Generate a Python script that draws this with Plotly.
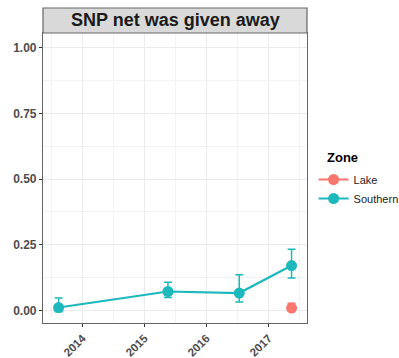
import plotly.graph_objects as go

south_dates = ["2013-08-13", "2015-05-19", "2016-07-12", "2017-05-16"]
south_vals = [0.011, 0.072, 0.066, 0.171]
south_hi = [0.047, 0.107, 0.136, 0.233]
south_lo = [-0.005, 0.0495, 0.032, 0.123]

lake_dates = ["2017-05-16"]
lake_vals = [0.009]
lake_hi = [0.027]
lake_lo = [0.0]

y_ticks = [0, 0.25, 0.5, 0.75, 1.0]
y_ticklabels = ["0.00", "0.25", "0.50", "0.75", "1.00"]
x_ticks = ["2014-01-01", "2015-01-01", "2016-01-01", "2017-01-01"]
x_ticklabels = ["2014", "2015", "2016", "2017"]

LAKE = "#F8766D"
SOUTH = "#1DB8BC"

fig = go.Figure()

fig.add_trace(go.Scatter(
    x=lake_dates, y=lake_vals, name="Lake", mode="lines+markers",
    line=dict(color=LAKE, width=2.2),
    marker=dict(color=LAKE, size=11),
    error_y=dict(type="data", symmetric=False,
                 array=[h - v for h, v in zip(lake_hi, lake_vals)],
                 arrayminus=[v - l for l, v in zip(lake_lo, lake_vals)],
                 color=LAKE, thickness=1.5, width=4),
))
fig.add_trace(go.Scatter(
    x=south_dates, y=south_vals, name="Southern", mode="lines+markers",
    line=dict(color=SOUTH, width=2.2),
    marker=dict(color=SOUTH, size=11),
    error_y=dict(type="data", symmetric=False,
                 array=[h - v for h, v in zip(south_hi, south_vals)],
                 arrayminus=[v - l for l, v in zip(south_lo, south_vals)],
                 color=SOUTH, thickness=1.5, width=4),
))

grid = "#EBEBEB"
PH = 290.0
fig.update_layout(
    width=399, height=358,
    margin=dict(l=43, r=92, t=33, b=35, autoexpand=False),
    paper_bgcolor="white", plot_bgcolor="white",
    font=dict(family="Liberation Sans, Arial, sans-serif", color="#4D4D4D"),
    showlegend=True,
    legend=dict(
        x=1.025, y=(323 - 165) / PH, xanchor="left", yanchor="top",
        font=dict(size=11, color="#222"),
        itemwidth=30,
    ),
    xaxis=dict(
        type="date", range=["2013-05-13", "2017-08-15"],
        tickvals=x_ticks, ticktext=["<b>%s</b>" % t for t in x_ticklabels],
        tickangle=-45, tickfont=dict(size=11.5, color="#4D4D4D"),
        ticks="outside", ticklen=3, tickcolor="#333",
        showgrid=True, gridcolor=grid, gridwidth=1.1,
        minor=dict(tickvals=["2013-07-02", "2014-07-02", "2015-07-02", "2016-07-02", "2017-07-02"],
                   showgrid=True, gridcolor="#F3F3F3", gridwidth=0.6),
        showline=True, linecolor="#666", linewidth=1.2, mirror=True,
        zeroline=False, automargin=False,
    ),
    yaxis=dict(
        range=[-0.048, 1.057],
        tickvals=y_ticks, ticktext=["<b>%s</b>" % t for t in y_ticklabels],
        tickfont=dict(size=12, color="#4D4D4D"),
        ticks="outside", ticklen=3, tickcolor="#333",
        showgrid=True, gridcolor=grid, gridwidth=1.1,
        minor=dict(tickvals=[0.125, 0.375, 0.625, 0.875],
                   showgrid=True, gridcolor="#F3F3F3", gridwidth=0.6),
        showline=True, linecolor="#666", linewidth=1.2, mirror=True,
        zeroline=False, automargin=False,
    ),
    shapes=[dict(type="rect", xref="paper", yref="paper", x0=0, x1=1, y0=1.0, y1=1.0 + 25 / PH,
                 fillcolor="#D9D9D9", line=dict(color="#666", width=1.2))],
    annotations=[
        dict(text="<b>SNP net was given away</b>", xref="paper", yref="paper",
             x=0.5, y=1.0 + 12.5 / PH, xanchor="center", yanchor="middle",
             showarrow=False, font=dict(size=18, color="#1A1A1A")),
        dict(text="<b>Zone</b>", xref="paper", yref="paper",
             x=(325 - 43) / 264, y=(323 - 157) / PH, xanchor="left", yanchor="middle",
             showarrow=False, font=dict(size=13, color="black")),
    ],
)

fig.write_html("out.html")
